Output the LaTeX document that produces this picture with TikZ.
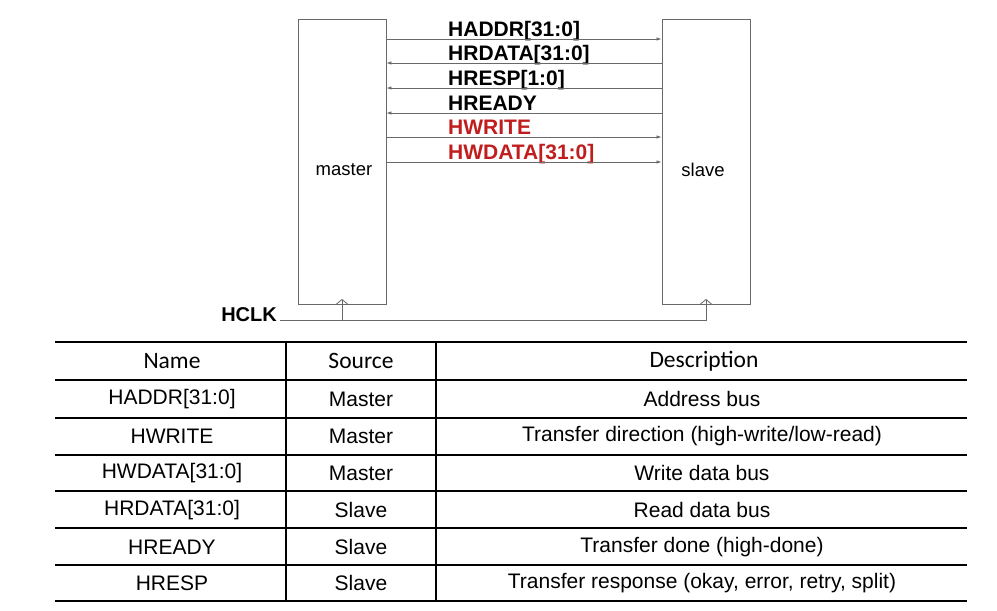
\documentclass[tikz,border=0pt]{standalone}
\usepackage{fontspec}
\setmainfont{Liberation Sans}
\newfontfamily\hdrfont{Carlito}
\usetikzlibrary{arrows.meta}
\definecolor{sigred}{RGB}{192,30,30}
\definecolor{wire}{RGB}{105,105,105}

\tikzset{
  blk/.style={draw=wire,line width=0.9pt,minimum width=88pt,minimum height=285pt,inner sep=0pt},
  sig/.style={font=\fontsize{21}{21}\selectfont\bfseries,anchor=base west,inner sep=0pt},
  bus/.style={draw=wire,line width=0.8pt,-{Latex[length=5pt,width=3.5pt]}},
  cell/.style={font=\fontsize{21}{21}\selectfont,inner sep=0pt},
  hdr/.style={font=\hdrfont\fontsize{23.5}{23.5}\selectfont,inner sep=0pt},
  thick rule/.style={line width=2.4pt},
  thin rule/.style={line width=1.2pt}
}

\begin{document}
\begin{tikzpicture}[x=1pt,y=-1pt]
  \useasboundingbox (0,0) rectangle (997,611);

  % master / slave blocks
  \node[blk] (master) at (342,161.5) {};
  \node[blk] (slave) at (706,161.5) {};
  \node[font=\fontsize{18.5}{18.5}\selectfont] (mlab) at (344,170) {master};
  \node[font=\fontsize{18.5}{18.5}\selectfont] (slab) at (703,170) {slave};

  % bus signals
  \node[sig] (haddr) at (448,36) {HADDR[31:0]};
  \node[sig] (hrdata) at (448,60) {HRDATA[31:0]};
  \node[sig] (hresp) at (448,85) {HRESP[1:0]};
  \node[sig] (hready) at (448,110) {HREADY};
  \node[sig,text=sigred] (hwrite) at (448,134) {HWRITE};
  \node[sig,text=sigred] (hwdata) at (448,159) {HWDATA[31:0]};

  \coordinate (m1) at (master.east |- 0,39);
  \coordinate (s1) at (slave.west |- 0,39);
  \coordinate (m2) at (master.east |- 0,63);
  \coordinate (s2) at (slave.west |- 0,63);
  \coordinate (m3) at (master.east |- 0,88);
  \coordinate (s3) at (slave.west |- 0,88);
  \coordinate (m4) at (master.east |- 0,113);
  \coordinate (s4) at (slave.west |- 0,113);
  \coordinate (m5) at (master.east |- 0,137);
  \coordinate (s5) at (slave.west |- 0,137);
  \coordinate (m6) at (master.east |- 0,162);
  \coordinate (s6) at (slave.west |- 0,162);
  \begin{scope}[bus]
    \draw (m1) -- (s1);
    \draw (s2) -- (m2);
    \draw (s3) -- (m3);
    \draw (s4) -- (m4);
    \draw (m5) -- (s5);
    \draw (m6) -- (s6);
  \end{scope}

  % clock
  \node[font=\fontsize{20}{20}\selectfont\bfseries,anchor=east,inner sep=0pt] (hclk) at (277,315) {HCLK};
  \coordinate (clkm) at (master.south |- 0,320);
  \coordinate (clks) at (slave.south |- 0,320);
  \begin{scope}[draw=wire,line width=0.8pt]
    \draw (hclk.east |- 0,320) ++(3,0) -- (clks) -- ([yshift=4pt]slave.south);
    \draw (clkm) -- ([yshift=4pt]master.south);
    \draw ([xshift=-6pt]master.south) -- ([yshift=5pt]master.south) -- ([xshift=6pt]master.south);
    \draw ([xshift=-6pt]slave.south) -- ([yshift=5pt]slave.south) -- ([xshift=6pt]slave.south);
  \end{scope}

  % table
  \draw[thick rule] (55,342) -- (967,342);
  \draw[thick rule] (55,380) -- (967,380);
  \draw[thin rule] (55,418) -- (967,418);
  \draw[thin rule] (55,455) -- (967,455);
  \draw[thin rule] (55,491) -- (967,491);
  \draw[thin rule] (55,528) -- (967,528);
  \draw[thin rule] (55,565) -- (967,565);
  \draw[thick rule] (55,601) -- (967,601);
  \draw[thin rule] (286,342) -- (286,601);
  \draw[thin rule] (436,342) -- (436,601);

  \node[hdr] (hname) at (172,361) {Name};
  \node[hdr] (hsrc) at (361,361) {Source};
  \node[hdr] (hdesc) at (704,361) {Description};

  \node[cell] (n1) at (172,399) {HADDR[31:0]};
  \node[cell] (s1t) at (361,399) {Master};
  \node[cell] (d1) at (702,399) {Address bus};
  \node[cell] (n2) at (172,436) {HWRITE};
  \node[cell] (s2t) at (361,436) {Master};
  \node[cell] (d2) at (702,436) {Transfer direction (high-write/low-read)};
  \node[cell] (n3) at (172,473) {HWDATA[31:0]};
  \node[cell] (s3t) at (361,473) {Master};
  \node[cell] (d3) at (702,473) {Write data bus};
  \node[cell] (n4) at (172,510) {HRDATA[31:0]};
  \node[cell] (s4t) at (361,510) {Slave};
  \node[cell] (d4) at (702,510) {Read data bus};
  \node[cell] (n5) at (172,547) {HREADY};
  \node[cell] (s5t) at (361,547) {Slave};
  \node[cell] (d5) at (702,547) {Transfer done (high-done)};
  \node[cell] (n6) at (172,583) {HRESP};
  \node[cell] (s6t) at (361,583) {Slave};
  \node[cell] (d6) at (702,583) {Transfer response (okay, error, retry, split)};
\end{tikzpicture}
\end{document}
